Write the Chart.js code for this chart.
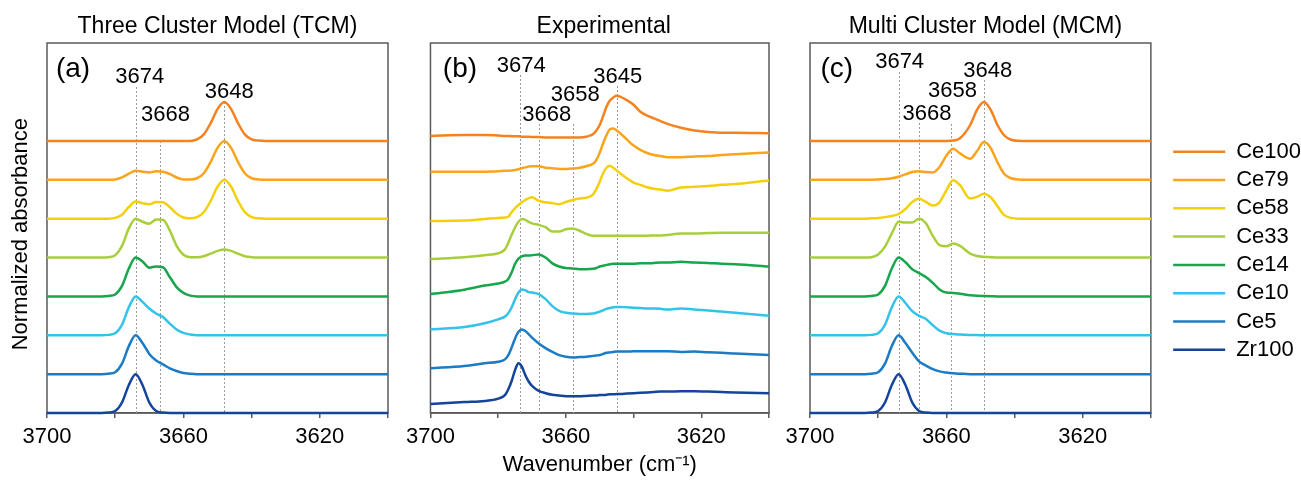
<!DOCTYPE html>
<html>
<head>
<meta charset="utf-8">
<title>OH stretching bands: TCM / experiment / MCM</title>
<script src="https://cdn.jsdelivr.net/npm/chart.js@4.4.1/dist/chart.umd.min.js"></script>
<style>
  html, body { margin: 0; padding: 0; background: #fff; }
  body { position: relative; width: 1301px; height: 480px; overflow: hidden; }
  canvas { position: absolute; top: 0; }
  #tcmChart { left: 0; }
  #expChart { left: 400px; }
  #mcmChart { left: 411px; }
</style>
</head>
<body>
<canvas id="tcmChart" width="400" height="480"></canvas>
<canvas id="expChart" width="400" height="480"></canvas>
<canvas id="mcmChart" width="900" height="480"></canvas>
<script>
// --- Samples (legend order, top trace first) ---
const sampleNames = ['Ce100', 'Ce79', 'Ce58', 'Ce33', 'Ce14', 'Ce10', 'Ce5', 'Zr100'];
const traceOffsets = [7, 6, 5, 4, 3, 2, 1, 0]; // stacking of the model spectra
const xTickLabels = [3700, 3660, 3620];

// --- (a) Three Cluster Model ---
const wnModelA = [3700, 3690, 3686, 3684, 3682, 3680, 3678, 3676, 3674, 3672,
                  3670, 3668, 3666, 3664, 3662, 3660, 3658, 3656, 3654, 3652,
                  3650, 3648, 3646, 3644, 3642, 3640, 3638, 3636, 3630, 3620, 3600];
const tcmCe100 = [0, 0, 0, 0, 0, 0, 0, 0, 0, 0,
                  0, 0, 0, 0, 0, 0, 0, 0.04, 0.17, 0.46,
                  0.82, 1, 0.82, 0.46, 0.17, 0.04, 0.01, 0, 0, 0, 0];
const tcmCe79 = [0, 0, 0, 0, 0, 0.01, 0.06, 0.16, 0.23, 0.21,
                 0.19, 0.22, 0.21, 0.15, 0.06, 0.01, 0.01, 0.04, 0.17, 0.46,
                 0.82, 1, 0.82, 0.46, 0.17, 0.04, 0.01, 0, 0, 0, 0];
const tcmCe58 = [0, 0, 0, 0, 0, 0.02, 0.1, 0.3, 0.44, 0.4,
                 0.37, 0.43, 0.42, 0.3, 0.13, 0.03, 0.01, 0.04, 0.17, 0.46,
                 0.82, 1, 0.82, 0.46, 0.17, 0.04, 0.01, 0, 0, 0, 0];
const tcmCe33 = [0, 0, 0, 0, 0.01, 0.06, 0.3, 0.75, 1, 0.92,
                 0.87, 0.98, 0.97, 0.7, 0.3, 0.07, 0.01, 0.01, 0.035, 0.1,
                 0.17, 0.21, 0.17, 0.1, 0.035, 0.01, 0, 0, 0, 0, 0];
const tcmCe14 = [0, 0, 0, 0, 0.01, 0.05, 0.27, 0.72, 1, 0.9,
                 0.74, 0.77, 0.75, 0.5, 0.24, 0.09, 0.02, 0, 0, 0,
                 0, 0, 0, 0, 0, 0, 0, 0, 0, 0, 0];
const tcmCe10 = [0, 0, 0, 0, 0.01, 0.05, 0.27, 0.72, 1, 0.86,
                 0.69, 0.56, 0.47, 0.3, 0.15, 0.06, 0.02, 0, 0, 0,
                 0, 0, 0, 0, 0, 0, 0, 0, 0, 0, 0];
const tcmCe5 = [0, 0, 0, 0, 0.01, 0.05, 0.27, 0.72, 1, 0.8,
                0.52, 0.35, 0.25, 0.15, 0.08, 0.03, 0.01, 0, 0, 0,
                0, 0, 0, 0, 0, 0, 0, 0, 0, 0, 0];
const tcmZr100 = [0, 0, 0, 0, 0.01, 0.05, 0.27, 0.72, 1, 0.72,
                  0.27, 0.05, 0.01, 0, 0, 0, 0, 0, 0, 0,
                  0, 0, 0, 0, 0, 0, 0, 0, 0, 0, 0];
const tcmPeakWn = [3674, 3667, 3648];
const tcmPeakText = ['3674', '3668', '3648'];

// --- (b) Experimental ---
const wnExp = [3700, 3690, 3684, 3680, 3678, 3677, 3676, 3675, 3674, 3673,
               3672, 3671, 3670, 3668, 3666, 3664, 3662, 3660, 3658, 3656,
               3654, 3652, 3651, 3650, 3649, 3648, 3647, 3646, 3645, 3644,
               3642, 3640, 3638, 3636, 3634, 3632, 3630, 3626, 3622, 3618,
               3614, 3610, 3600];
const expCe100 = [7.13, 7.15, 7.15, 7.14, 7.13, 7.13, 7.12, 7.12, 7.12, 7.11,
                  7.11, 7.11, 7.10, 7.10, 7.09, 7.09, 7.09, 7.09, 7.09, 7.09,
                  7.11, 7.17, 7.27, 7.41, 7.64, 7.88, 8.04, 8.12, 8.16, 8.14,
                  8.05, 7.93, 7.75, 7.65, 7.58, 7.51, 7.44, 7.34, 7.27, 7.23,
                  7.21, 7.21, 7.20];
const expCe79 = [6.21, 6.21, 6.21, 6.22, 6.23, 6.23, 6.24, 6.25, 6.27, 6.30,
                 6.32, 6.34, 6.35, 6.35, 6.31, 6.30, 6.28, 6.28, 6.29, 6.31,
                 6.35, 6.41, 6.51, 6.70, 6.94, 7.15, 7.30, 7.32, 7.27, 7.20,
                 7.04, 6.88, 6.77, 6.69, 6.64, 6.61, 6.58, 6.58, 6.60, 6.61,
                 6.64, 6.66, 6.70];
const expCe58 = [4.94, 4.95, 4.99, 5.02, 5.03, 5.05, 5.17, 5.27, 5.35, 5.42,
                 5.48, 5.53, 5.55, 5.46, 5.42, 5.40, 5.37, 5.43, 5.48, 5.52,
                 5.54, 5.62, 5.76, 5.95, 6.17, 6.31, 6.36, 6.31, 6.24, 6.17,
                 6.04, 5.93, 5.87, 5.81, 5.77, 5.75, 5.72, 5.80, 5.82, 5.84,
                 5.87, 5.89, 5.98];
const expCe33 = [3.96, 4.01, 4.06, 4.11, 4.21, 4.38, 4.59, 4.78, 4.92, 4.99,
                 4.97, 4.92, 4.88, 4.84, 4.78, 4.67, 4.67, 4.73, 4.75, 4.69,
                 4.61, 4.56, 4.56, 4.56, 4.56, 4.56, 4.56, 4.56, 4.56, 4.56,
                 4.56, 4.56, 4.56, 4.56, 4.57, 4.57, 4.58, 4.62, 4.62, 4.63,
                 4.64, 4.64, 4.64];
const expCe14 = [3.06, 3.17, 3.28, 3.33, 3.38, 3.45, 3.62, 3.84, 3.97, 4.03,
                 4.05, 4.05, 4.06, 4.08, 4.00, 3.85, 3.77, 3.73, 3.72, 3.70,
                 3.70, 3.71, 3.73, 3.77, 3.79, 3.81, 3.83, 3.84, 3.84, 3.84,
                 3.84, 3.84, 3.85, 3.85, 3.86, 3.87, 3.87, 3.89, 3.87, 3.86,
                 3.84, 3.83, 3.77];
const expCe10 = [2.15, 2.21, 2.31, 2.41, 2.48, 2.57, 2.72, 2.93, 3.10, 3.18,
                 3.16, 3.11, 3.10, 3.06, 2.93, 2.75, 2.63, 2.58, 2.56, 2.55,
                 2.55, 2.56, 2.58, 2.61, 2.64, 2.68, 2.70, 2.72, 2.73, 2.73,
                 2.72, 2.71, 2.70, 2.69, 2.69, 2.68, 2.66, 2.69, 2.66, 2.64,
                 2.61, 2.58, 2.50];
const expCe5 = [1.15, 1.21, 1.28, 1.32, 1.38, 1.49, 1.69, 1.92, 2.09, 2.15,
                2.11, 2.03, 1.94, 1.79, 1.67, 1.57, 1.49, 1.45, 1.43, 1.44,
                1.45, 1.47, 1.48, 1.49, 1.52, 1.55, 1.56, 1.57, 1.58, 1.58,
                1.58, 1.59, 1.59, 1.59, 1.59, 1.59, 1.59, 1.57, 1.58, 1.56,
                1.55, 1.53, 1.49];
const expZr100 = [0.23, 0.28, 0.31, 0.37, 0.46, 0.61, 0.83, 1.11, 1.28, 1.19,
                  0.98, 0.81, 0.70, 0.57, 0.51, 0.47, 0.45, 0.43, 0.43, 0.43,
                  0.44, 0.45, 0.45, 0.46, 0.46, 0.47, 0.48, 0.48, 0.49, 0.49,
                  0.50, 0.51, 0.52, 0.53, 0.54, 0.55, 0.55, 0.56, 0.56, 0.55,
                  0.54, 0.53, 0.51];
const expPeakWn = [3673.5, 3668, 3658, 3645];
const expPeakText = ['3674', '3668', '3658', '3645'];

// --- (c) Multi Cluster Model ---
const wnModelC = [3700, 3690, 3686, 3684, 3682, 3680, 3678, 3676, 3674, 3672,
                  3670, 3668, 3666, 3664, 3662, 3660, 3658, 3656, 3653, 3651,
                  3649, 3647, 3645, 3643, 3641, 3639, 3636, 3630, 3620, 3600];
const mcmCe100 = [0, 0, 0, 0, 0, 0, 0, 0, 0, 0,
                  0, 0, 0, 0, 0, 0, 0.01, 0.07, 0.41, 0.8,
                  1, 0.8, 0.41, 0.14, 0.03, 0.005, 0, 0, 0, 0];
const mcmCe79 = [0, 0, 0, 0, 0, 0.01, 0.02, 0.04, 0.08, 0.14,
                 0.2, 0.22, 0.2, 0.19, 0.33, 0.62, 0.8, 0.68, 0.54, 0.74,
                 0.97, 0.82, 0.45, 0.15, 0.04, 0.01, 0, 0, 0, 0];
const mcmCe58 = [0, 0, 0, 0, 0.01, 0.02, 0.04, 0.07, 0.12, 0.25,
                 0.43, 0.51, 0.43, 0.34, 0.42, 0.73, 0.99, 0.86, 0.52, 0.56,
                 0.64, 0.55, 0.32, 0.09, 0.02, 0, 0, 0, 0, 0];
const mcmCe33 = [0, 0, 0, 0, 0.01, 0.08, 0.28, 0.62, 0.92, 0.9,
                 0.9, 1, 0.88, 0.56, 0.32, 0.29, 0.36, 0.3, 0.1, 0.04,
                 0.02, 0.01, 0, 0, 0, 0, 0, 0, 0, 0];
const mcmCe14 = [0, 0, 0, 0, 0.01, 0.05, 0.27, 0.72, 1, 0.88,
                 0.7, 0.6, 0.5, 0.35, 0.18, 0.1, 0.09, 0.07, 0.03, 0.015,
                 0.01, 0.005, 0, 0, 0, 0, 0, 0, 0, 0];
const mcmCe10 = [0, 0, 0, 0, 0.01, 0.05, 0.27, 0.72, 1, 0.83,
                 0.62, 0.5, 0.42, 0.26, 0.12, 0.05, 0.03, 0.02, 0.01, 0.005,
                 0, 0, 0, 0, 0, 0, 0, 0, 0, 0];
const mcmCe5 = [0, 0, 0, 0, 0.01, 0.05, 0.27, 0.72, 1, 0.8,
                0.55, 0.33, 0.22, 0.13, 0.07, 0.04, 0.02, 0.01, 0, 0,
                0, 0, 0, 0, 0, 0, 0, 0, 0, 0];
const mcmZr100 = [0, 0, 0, 0, 0.01, 0.05, 0.27, 0.72, 1, 0.72,
                  0.27, 0.05, 0.01, 0, 0, 0, 0, 0, 0, 0,
                  0, 0, 0, 0, 0, 0, 0, 0, 0, 0];
const mcmPeakWn = [3674, 3668, 3658.5, 3649];
const mcmPeakText = ['3674', '3668', '3658', '3648'];

// --- Styling ---
const FONT = '"Liberation Sans", Arial, sans-serif';
const traceColors = ['#f5821f', '#f9a51b', '#f4d00c', '#a8cf3a', '#17a64c', '#33c2e8', '#1c7bc5', '#14449b'];
const AXIS_COLOR = '#5a5a5a';

Chart.defaults.font.family = FONT;
Chart.defaults.color = '#000';

function buildDatasets(wn, series, offsets) {
    return series.map((vals, k) => ({
        label: sampleNames[k],
        data: vals.map((v, i) => ({ x: wn[i], y: v + offsets[k] })),
        borderColor: traceColors[k],
        backgroundColor: traceColors[k],
        borderWidth: 2.5,
        pointRadius: 0,
        fill: false,
        clip: false,
        cubicInterpolationMode: 'monotone'
    }));
}

// frame, dashed peak markers, panel title and peak labels
function panelDeco(info) {
    return {
        id: 'panelDeco',
        beforeDatasetsDraw(chart) {
            const { ctx, chartArea: a } = chart;
            const x = chart.scales.x;
            ctx.save();
            ctx.strokeStyle = AXIS_COLOR;
            ctx.lineWidth = 1.5;
            ctx.strokeRect(a.left, a.top, a.right - a.left, a.bottom - a.top);

            ctx.strokeStyle = '#9a9a9a';
            ctx.lineWidth = 1;
            ctx.setLineDash([2, 2]);
            info.peaks.forEach((wn, i) => {
                const px = Math.round(x.getPixelForValue(wn)) + 0.5;
                ctx.beginPath();
                ctx.moveTo(px, info.lineTop[i]);
                ctx.lineTo(px, a.bottom);
                ctx.stroke();
            });
            ctx.setLineDash([]);

            ctx.fillStyle = '#000';
            ctx.textAlign = 'center';
            ctx.textBaseline = 'alphabetic';
            ctx.font = '23px ' + FONT;
            ctx.fillText(info.title, (a.left + a.right) / 2 + info.titleDx, 33);
            ctx.font = '22px ' + FONT;
            info.peaks.forEach((wn, i) => {
                ctx.fillText(info.labels[i], x.getPixelForValue(wn) + info.labelDx[i], info.labelBase[i]);
            });
            ctx.font = '28px ' + FONT;
            ctx.fillText(info.letter, a.left + info.letterDx, 77);
            ctx.restore();
        }
    };
}

function makeChart(canvasId, datasets, deco, opts) {
    const scales = {
        x: {
            type: 'linear', reverse: true, min: 3600, max: 3700,
            ticks: {
                stepSize: 20, autoSkip: false, maxRotation: 0, padding: 6,
                color: '#000', font: { size: 22 },
                callback: v => xTickLabels.includes(v) ? String(v) : ''
            },
            grid: { drawOnChartArea: false, drawTicks: true, tickLength: 5, color: AXIS_COLOR, lineWidth: 1.5 },
            border: { display: true, color: AXIS_COLOR, width: 1.5 },
            title: opts.xTitle
                ? { display: true, text: opts.xTitle, color: '#000', font: { size: 22 }, padding: { top: 0, bottom: 2 } }
                : { display: false },
            afterFit: s => { s.height = 67; }
        },
        y: {
            min: 0, max: 9.52,
            ticks: { display: false },
            grid: { display: false },
            border: { display: false },
            title: opts.yTitle
                ? { display: true, text: opts.yTitle, color: '#000', font: { size: 22 }, padding: { top: 7.5, bottom: 0 } }
                : { display: false },
            afterFit: s => { s.width = opts.yWidth; }
        }
    };
    if (opts.spacer) {
        // empty right-hand axis that keeps the legend away from the frame
        scales.y2 = {
            position: 'right', display: true,
            ticks: { display: false }, grid: { display: false }, border: { display: false },
            afterFit: s => { s.width = opts.spacer; }
        };
    }
    return new Chart(document.getElementById(canvasId), {
        type: 'line',
        data: { datasets },
        options: {
            responsive: false,
            animation: false,
            events: [],
            layout: { padding: { top: 43, right: opts.padRight, bottom: 0, left: 0 } },
            scales,
            plugins: {
                legend: opts.legend || { display: false },
                tooltip: { enabled: false }
            }
        },
        plugins: [panelDeco(deco)]
    });
}

// --- Panel (a) ---
makeChart('tcmChart',
    buildDatasets(wnModelA, [tcmCe100, tcmCe79, tcmCe58, tcmCe33, tcmCe14, tcmCe10, tcmCe5, tcmZr100], traceOffsets),
    {
        title: 'Three Cluster Model (TCM)', titleDx: 0, letter: '(a)', letterDx: 26,
        peaks: tcmPeakWn, labels: tcmPeakText,
        labelBase: [83, 121, 98], labelDx: [4, 6, 5], lineTop: [87, 141, 102]
    },
    { yWidth: 47, padRight: 12, yTitle: 'Normalized absorbance  ' });

// --- Panel (b) ---
makeChart('expChart',
    buildDatasets(wnExp, [expCe100, expCe79, expCe58, expCe33, expCe14, expCe10, expCe5, expZr100], [0, 0, 0, 0, 0, 0, 0, 0]),
    {
        title: 'Experimental', titleDx: 4, letter: '(b)', letterDx: 29.5,
        peaks: expPeakWn, labels: expPeakText,
        labelBase: [72, 121, 101, 83], labelDx: [1, 8, 2.5, 1], lineTop: [75, 124, 124, 86]
    },
    { yWidth: 28, padRight: 31, xTitle: 'Wavenumber (cm\u207B\u00B9)' });

// --- Panel (c) ---
// the canvas is wide (it starts under panel b) so the legend gets enough room
makeChart('mcmChart',
    buildDatasets(wnModelC, [mcmCe100, mcmCe79, mcmCe58, mcmCe33, mcmCe14, mcmCe10, mcmCe5, mcmZr100], traceOffsets),
    {
        title: 'Multi Cluster Model (MCM)', titleDx: 5, letter: '(c)', letterDx: 26.7,
        peaks: mcmPeakWn, labels: mcmPeakText,
        labelBase: [68, 120, 97, 77], labelDx: [1, 8, 1, 4], lineTop: [72, 123, 124, 80]
    },
    {
        yWidth: 399, padRight: 0, spacer: 16,
        legend: {
            display: true, position: 'right', align: 'start',
            title: { display: true, text: '', font: { size: 12 }, padding: { top: 77, bottom: 0 } },
            labels: {
                usePointStyle: true, pointStyle: 'line', pointStyleWidth: 52,
                padding: 6.3, color: '#000', font: { size: 22 }
            }
        }
    });
</script>
</body>
</html>
